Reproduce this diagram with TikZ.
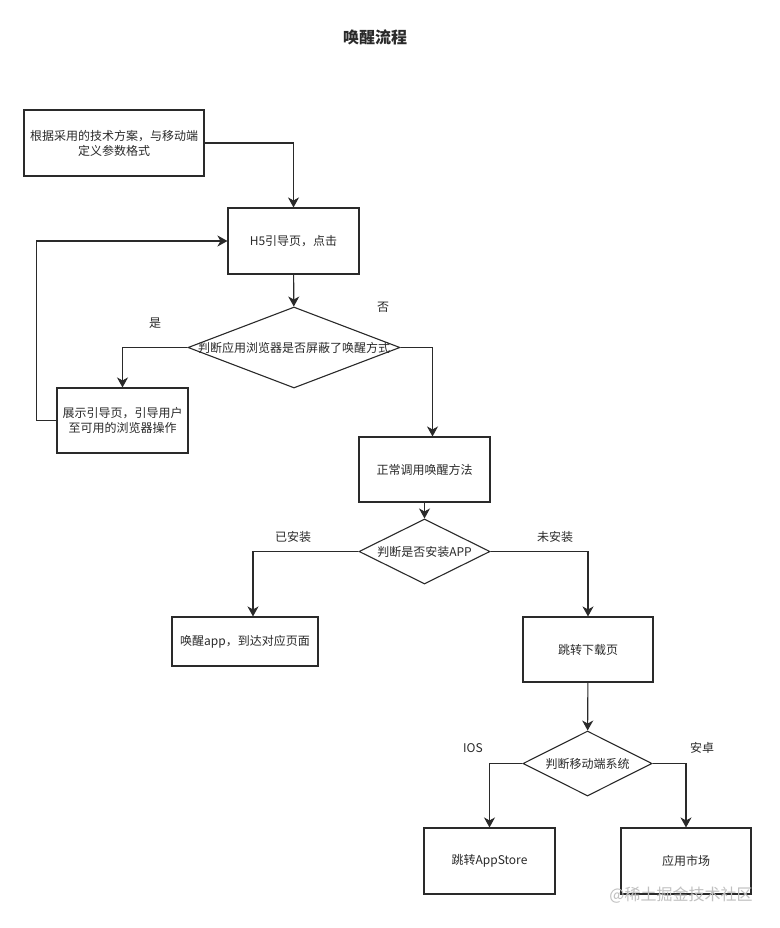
\documentclass[tikz,border=0pt]{standalone}
\usepackage{fontspec}
\setmainfont{Noto Sans CJK SC}
\usetikzlibrary{shapes.geometric,arrows.meta}
\definecolor{ink}{HTML}{2A2A2A}
\begin{document}
\begin{tikzpicture}[
x=1pt, y=-1pt,
every node/.style={font=\fontsize{12}{15}\selectfont, text=ink},
box/.style={draw=ink, line width=1.1pt, rectangle, inner sep=0pt, align=center},
decision/.style={draw=ink, line width=1.1pt, diamond, inner sep=0pt},
link/.style={draw=ink, line width=1.1pt, -{Stealth[length=10pt,width=11pt,inset=3pt]}}
]
\fill[white] (0,0) rectangle (779,928);
\useasboundingbox (0,0) rectangle (779,928);

\node[font=\bfseries\fontsize{16}{18}\selectfont] (title) at (375,37) {唤醒流程};

\node[box, minimum width=180pt, minimum height=66pt] (intro) at (114,143) {根据采用的技术方案，与移动端\\定义参数格式};
\node[box, minimum width=131pt, minimum height=66pt] (h5) at (293.5,241) {H5引导页，点击};
\node[decision, minimum width=212pt, minimum height=81pt,
    label={center:判断应用浏览器是否屏蔽了唤醒方式}] (block) at (294,347.5) {};
\node[box, minimum width=131pt, minimum height=65pt] (guide) at (122.5,420.5) {展示引导页，引导用户\\至可用的浏览器操作};
\node[box, minimum width=131pt, minimum height=65pt] (call) at (424.5,469.5) {正常调用唤醒方法};
\node[decision, minimum width=131pt, minimum height=65pt,
    label={center:判断是否安装APP}] (installed) at (424.5,551.5) {};
\node[box, minimum width=146pt, minimum height=49pt] (wake) at (245,641.5) {唤醒app，到达对应页面};
\node[box, minimum width=130pt, minimum height=65pt] (download) at (588,649.5) {跳转下载页};
\node[decision, minimum width=129pt, minimum height=65pt,
    label={center:判断移动端系统}] (system) at (587.5,763.5) {};
\node[box, minimum width=131pt, minimum height=66pt] (store) at (489.5,861) {跳转AppStore};
\node[box, minimum width=130pt, minimum height=66pt] (market) at (686,861) {应用市场};

% branch labels
\node (yes) at (155,323) {是};
\node (no) at (383,307) {否};
\node (has) at (293,537) {已安装};
\node (hasnot) at (555,537) {未安装};
\node (ios) at (473,748) {IOS};
\node (android) at (702,748) {安卓};

\node[text=black!25, font=\fontsize{16}{18}\selectfont] (mark) at (681,895) {@稀土掘金技术社区};

% connectors
\draw[link] (intro.east) -| (h5);
\draw[link] (h5) -- (block);
\draw[link] (block.west) -| (guide);
\draw[link] (guide.west) -- ++(-20,0) |- (h5.west);
\draw[link] (block.east) -| ([xshift=8pt]call.north);
\draw[link] (call) -- (installed);
\draw[link] (installed.west) -| ([xshift=8pt]wake.north);
\draw[link] (installed.east) -| (download);
\draw[link] (download) -- (system);
\draw[link] (system.west) -| (store);
\draw[link] (system.east) -| (market);
\end{tikzpicture}
\end{document}
